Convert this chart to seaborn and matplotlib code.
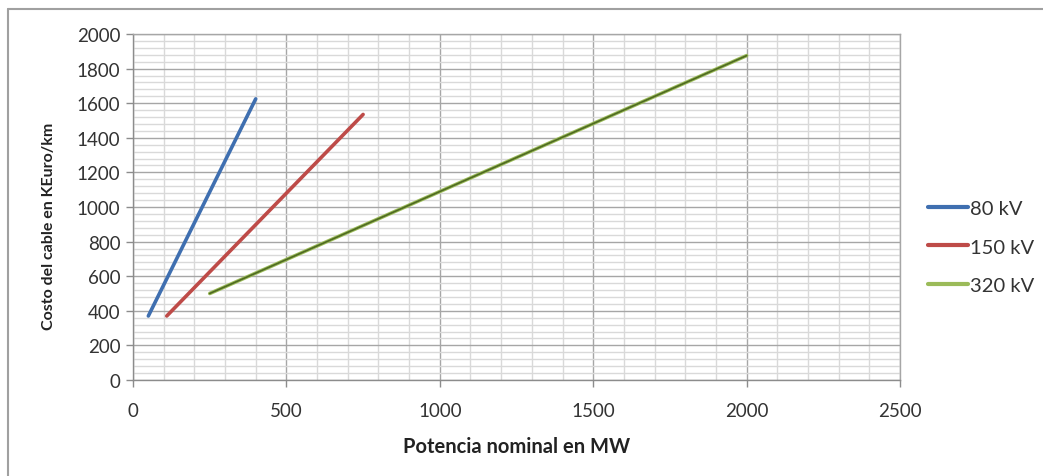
import matplotlib
matplotlib.use("Agg")
import matplotlib.pyplot as plt
from matplotlib.lines import Line2D
from matplotlib.ticker import MultipleLocator
import seaborn as sns
import pandas as pd

series = ["80 kV", "150 kV", "320 kV"]
potencia_80 = [50, 400]
costo_80 = [370, 1625]
potencia_150 = [110, 750]
costo_150 = [370, 1535]
potencia_320 = [250, 2000]
costo_320 = [500, 1875]
colors = ["#3F6FB0", "#BE4B48", "#9BBB59"]

df = pd.DataFrame({
    "Potencia": potencia_80 + potencia_150 + potencia_320,
    "Costo": costo_80 + costo_150 + costo_320,
    "Serie": [series[0]] * 2 + [series[1]] * 2 + [series[2]] * 2,
})

sns.set_theme(style="white")
plt.rcParams["font.family"] = ["Lato", "DejaVu Sans"]

fig = plt.figure(figsize=(10.43, 4.77), dpi=100)
ax = fig.add_axes([133 / 1043, 1 - 381 / 477, (900 - 133) / 1043, (381 - 35) / 477])

sns.lineplot(data=df, x="Potencia", y="Costo", hue="Serie", hue_order=series,
             palette=colors, linewidth=2.6, ax=ax, legend=False, zorder=3)
# darker core on the 320 kV line
sns.lineplot(data=df[df["Serie"] == series[2]], x="Potencia", y="Costo",
             color="#4F6A22", linewidth=1.2, ax=ax, legend=False, zorder=4)

ax.set_xlim(0, 2500)
ax.set_ylim(0, 2000)
ax.xaxis.set_major_locator(MultipleLocator(500))
ax.xaxis.set_minor_locator(MultipleLocator(100))
ax.yaxis.set_major_locator(MultipleLocator(200))
ax.yaxis.set_minor_locator(MultipleLocator(40))
ax.grid(which="major", color="#A6A6A6", linewidth=1.0)
ax.grid(which="minor", color="#D9D9D9", linewidth=1.0)
ax.set_axisbelow(True)

for s in ax.spines.values():
    s.set_color("#A6A6A6")
    s.set_linewidth(1.0)
ax.spines["left"].set_color("#8C8C8C")
ax.spines["bottom"].set_color("#8C8C8C")

ax.tick_params(axis="x", which="major", bottom=True, length=5, width=1, color="#8C8C8C",
               pad=11, labelsize=13.5, labelcolor="#333333")
ax.tick_params(axis="y", which="major", left=True, length=5, width=1, color="#8C8C8C",
               pad=4, labelsize=13.5, labelcolor="#333333")
ax.tick_params(which="minor", length=0)

ax.set_xlabel("Potencia nominal en MW", fontsize=14.5, fontweight="bold", labelpad=12, color="#222222")
ax.set_ylabel("Costo del cable en KEuro/km", fontsize=11.5, fontweight="bold", color="#222222")
ax.yaxis.set_label_coords((56 - 133) / 767, (381 - 226) / 346)

handles = [Line2D([0], [0], color=c, linewidth=3) for c in colors]
fig.legend(handles, series, loc="center left", bbox_to_anchor=(910 / 1043, 1 - 248 / 477),
           frameon=False, fontsize=14.5, handlelength=2.0, handletextpad=0.1,
           labelspacing=1.05, labelcolor="#333333")

# outer chart border (top and left visible)
fig.add_artist(Line2D([8 / 1043, 1.0], [1 - 10 / 477, 1 - 10 / 477], color="#A0A0A0", linewidth=1.5))
fig.add_artist(Line2D([8 / 1043, 8 / 1043], [0.0, 1 - 10 / 477], color="#A0A0A0", linewidth=1.5))

fig.savefig("out.png", dpi=100)
